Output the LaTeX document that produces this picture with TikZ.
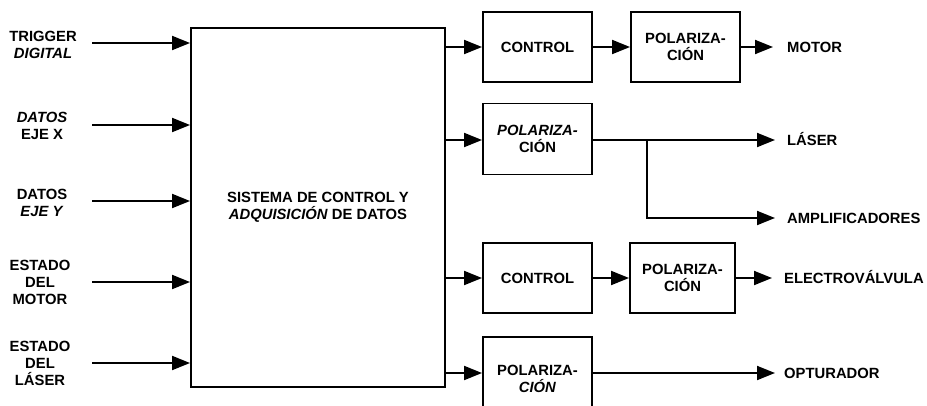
\documentclass[tikz,border=0pt]{standalone}
\usepackage{fontspec}
\setmainfont{Liberation Sans}
\usetikzlibrary{arrows.meta}
\begin{document}
\begin{tikzpicture}[x=1pt,y=-1pt,
  every node/.style={font=\fontsize{14.8}{17}\selectfont\bfseries},
  blk/.style={draw, line width=1.9pt, minimum width=109pt, minimum height=70pt, align=center, inner sep=0pt},
  lbl/.style={align=center, inner sep=0pt},
  outl/.style={anchor=west, inner sep=0pt, text height=10.5pt, text depth=0pt},
  arr/.style={line width=1.9pt, -{Triangle[length=18pt,width=14pt]}},
  ln/.style={line width=1.9pt}]
\clip (0,0) rectangle (927,405);
% central block
\node[blk, minimum width=254pt, minimum height=359pt] (main) at (318,207.5)
  {SISTEMA DE CONTROL Y\\\textit{ADQUISICIÓN} DE DATOS};
% inputs
\node[lbl] (l1) at (43,44.5) {TRIGGER\\\textit{DIGITAL}};
\node[lbl] (l2) at (42,125.5) {\textit{DATOS}\\EJE X};
\node[lbl] (l3) at (42,203) {DATOS\\\textit{EJE Y}};
\node[lbl] (l4) at (40,282) {ESTADO\\DEL\\MOTOR};
\node[lbl] (l5) at (40,363.5) {ESTADO\\DEL\\LÁSER};
\coordinate (i1) at (92,43);
\coordinate (i2) at (92,125);
\coordinate (i3) at (92,201);
\coordinate (i4) at (92,282);
\coordinate (i5) at (92,363);
\foreach \i in {1,...,5} {\draw[arr] (i\i) -- (i\i -| main.west);}
% right blocks
\node[blk] (c1) at (537.5,47) {CONTROL};
\node[blk] (p1) at (685.5,47) {POLARIZA-\\CIÓN};
\node[blk, minimum height=71pt] (p2) at (537.5,139) {\textit{POLARIZA-}\\CIÓN};
\node[blk] (c3) at (537.5,278) {CONTROL};
\node[blk, minimum width=105pt] (p3) at (682.5,278) {POLARIZA-\\CIÓN};
\node[blk, minimum height=84pt] (p4) at (537.5,379) {POLARIZA-\\\textit{CIÓN}};
% outputs
\node[outl] (o1) at (787,47) {MOTOR};
\node[outl] (o2) at (787,140) {LÁSER};
\node[outl] (o3) at (787,218) {AMPLIFICADORES};
\node[outl] (o4) at (784,278) {ELECTROVÁLVULA};
\node[outl] (o5) at (784,373) {OPTURADOR};
% connectors
\draw[arr] (main.east |- c1.west) -- (c1.west);
\draw[arr] (c1.east) -- (p1.west);
\draw[arr] (p1.east) -- ([xshift=-14pt]o1.west);
\draw[arr] (main.east |- o2.west) -- (p2.west |- o2.west);
\draw[arr] (p2.east |- o2.west) -- ([xshift=-12pt]o2.west);
\coordinate (br) at (647,140);
\draw[arr] (br) |- ([xshift=-12pt]o3.west);
\draw[arr] (main.east |- c3.west) -- (c3.west);
\draw[arr] (c3.east) -- (p3.west);
\draw[arr] (p3.east) -- ([xshift=-12pt]o4.west);
\draw[arr] (main.east |- o5.west) -- (p4.west |- o5.west);
\draw[arr] (p4.east |- o5.west) -- ([xshift=-9pt]o5.west);
\end{tikzpicture}
\end{document}
